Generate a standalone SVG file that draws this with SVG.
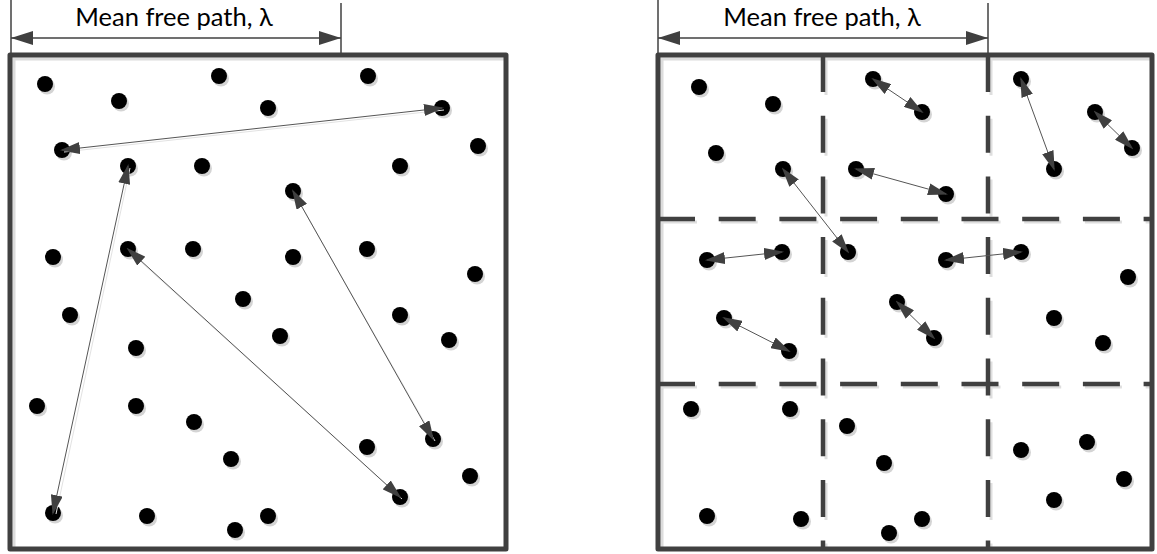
<svg xmlns="http://www.w3.org/2000/svg" xmlns:xlink="http://www.w3.org/1999/xlink" width="1157" height="554" viewBox="0 0 1157 554">
  <style>
    .frame { fill: none; stroke: #404040; stroke-width: 5; stroke-linejoin: round; }
    .frame-sh { fill: none; stroke: #dcdcdc; stroke-width: 3; }
    .grid { fill: none; stroke: #404040; stroke-width: 4.5; stroke-dasharray: 37 23.7; }
    .grid-sh { fill: none; stroke: #dedede; stroke-width: 3; stroke-dasharray: 37 23.7; }
    .tick { stroke: #404040; stroke-width: 1.5; }
    .dim { stroke: #404040; stroke-width: 1.5; marker-start: url(#dimHead); marker-end: url(#dimHead); }
    .label { font-family: Lato, "Open Sans", sans-serif; font-size: 25.5px; fill: #000; text-anchor: middle; }
    .dot { fill: #000; }
    .dot-sh { fill: #d4d4d4; }
    .path { stroke: #555; stroke-width: 1; fill: none; marker-start: url(#head); marker-end: url(#head); }
    .path-sh { stroke: #e2e2e2; stroke-width: 1; fill: none; }
  </style>
  <defs>
    <marker id="head" viewBox="0 0 20 12" refX="18" refY="6" markerWidth="20" markerHeight="12" markerUnits="userSpaceOnUse" orient="auto-start-reverse">
      <path d="M0,0 L20,6 L0,12 Z" fill="#404040"/>
    </marker>
    <marker id="dimHead" viewBox="0 0 22 14" refX="22" refY="7" markerWidth="22" markerHeight="14" markerUnits="userSpaceOnUse" orient="auto-start-reverse">
      <path d="M0,0 L22,7 L0,14 Z" fill="#404040"/>
    </marker>
    <g id="particle">
      <circle class="dot-sh" cx="2" cy="2.5" r="8"/>
      <circle class="dot" r="8"/>
    </g>
  </defs>

  <!-- ===== Left panel: single volume ===== -->
  <g id="left-frame">
    <rect class="frame-sh" x="14" y="59" width="492" height="490"/>
    <rect class="frame" x="10" y="55" width="496" height="494"/>
  </g>
  <g id="left-dimension">
    <line class="tick" x1="11" y1="0" x2="11" y2="55"/>
    <line class="tick" x1="341" y1="3" x2="341" y2="55"/>
    <line class="dim" x1="11" y1="38" x2="341" y2="38"/>
    <text class="label" x="174" y="26">Mean free path, λ</text>
  </g>

  <!-- ===== Right panel: cell grid ===== -->
  <g id="right-frame">
    <rect class="frame-sh" x="662" y="59" width="490" height="490"/>
    <line class="grid-sh" x1="826" y1="58" x2="826" y2="549"/>
    <line class="grid-sh" x1="991" y1="58" x2="991" y2="549"/>
    <line class="grid-sh" x1="660" y1="222" x2="1152" y2="222"/>
    <line class="grid-sh" x1="660" y1="387" x2="1152" y2="387"/>
    <line class="grid" x1="823" y1="55" x2="823" y2="549"/>
    <line class="grid" x1="988" y1="55" x2="988" y2="549"/>
    <line class="grid" x1="658" y1="219" x2="1152" y2="219"/>
    <line class="grid" x1="658" y1="384" x2="1152" y2="384"/>
    <rect class="frame" x="658" y="55" width="494" height="494"/>
  </g>
  <g id="right-dimension">
    <line class="tick" x1="658" y1="0" x2="658" y2="55"/>
    <line class="tick" x1="988" y1="3" x2="988" y2="55"/>
    <line class="dim" x1="658" y1="38" x2="988" y2="38"/>
    <text class="label" x="822" y="26">Mean free path, λ</text>
  </g>

  <!-- ===== Particles, left panel ===== -->
  <g id="L1"><use xlink:href="#particle" x="45" y="84"/></g>
  <g id="L2"><use xlink:href="#particle" x="119" y="101"/></g>
  <g id="L3"><use xlink:href="#particle" x="219" y="76"/></g>
  <g id="L4"><use xlink:href="#particle" x="368" y="76"/></g>
  <g id="L5"><use xlink:href="#particle" x="268" y="108"/></g>
  <g id="L6"><use xlink:href="#particle" x="442" y="108"/></g>
  <g id="L7"><use xlink:href="#particle" x="62" y="150"/></g>
  <g id="L8"><use xlink:href="#particle" x="478" y="146"/></g>
  <g id="L9"><use xlink:href="#particle" x="128" y="166"/></g>
  <g id="L10"><use xlink:href="#particle" x="202" y="166"/></g>
  <g id="L11"><use xlink:href="#particle" x="400" y="166"/></g>
  <g id="L12"><use xlink:href="#particle" x="293" y="191"/></g>
  <g id="L13"><use xlink:href="#particle" x="53" y="257"/></g>
  <g id="L14"><use xlink:href="#particle" x="128" y="249"/></g>
  <g id="L15"><use xlink:href="#particle" x="193" y="249"/></g>
  <g id="L16"><use xlink:href="#particle" x="293" y="257"/></g>
  <g id="L17"><use xlink:href="#particle" x="367" y="249"/></g>
  <g id="L18"><use xlink:href="#particle" x="475" y="274"/></g>
  <g id="L19"><use xlink:href="#particle" x="243" y="299"/></g>
  <g id="L20"><use xlink:href="#particle" x="70" y="315"/></g>
  <g id="L21"><use xlink:href="#particle" x="400" y="315"/></g>
  <g id="L22"><use xlink:href="#particle" x="280" y="336"/></g>
  <g id="L23"><use xlink:href="#particle" x="449" y="340"/></g>
  <g id="L24"><use xlink:href="#particle" x="136" y="348"/></g>
  <g id="L25"><use xlink:href="#particle" x="37" y="406"/></g>
  <g id="L26"><use xlink:href="#particle" x="136" y="406"/></g>
  <g id="L27"><use xlink:href="#particle" x="194" y="422"/></g>
  <g id="L28"><use xlink:href="#particle" x="367" y="447"/></g>
  <g id="L29"><use xlink:href="#particle" x="433" y="439"/></g>
  <g id="L30"><use xlink:href="#particle" x="231" y="459"/></g>
  <g id="L31"><use xlink:href="#particle" x="470" y="476"/></g>
  <g id="L32"><use xlink:href="#particle" x="400" y="497"/></g>
  <g id="L33"><use xlink:href="#particle" x="53" y="513"/></g>
  <g id="L34"><use xlink:href="#particle" x="147" y="516"/></g>
  <g id="L35"><use xlink:href="#particle" x="268" y="516"/></g>
  <g id="L36"><use xlink:href="#particle" x="235" y="530"/></g>

  <!-- ===== Particles, right panel ===== -->
  <g id="R1"><use xlink:href="#particle" x="699" y="87"/></g>
  <g id="R2"><use xlink:href="#particle" x="773" y="104"/></g>
  <g id="R3"><use xlink:href="#particle" x="716" y="153"/></g>
  <g id="R4"><use xlink:href="#particle" x="873" y="79"/></g>
  <g id="R5"><use xlink:href="#particle" x="922" y="112"/></g>
  <g id="R6"><use xlink:href="#particle" x="1021" y="79"/></g>
  <g id="R7"><use xlink:href="#particle" x="1095" y="112"/></g>
  <g id="R8"><use xlink:href="#particle" x="1132" y="148"/></g>
  <g id="R9"><use xlink:href="#particle" x="1054" y="169"/></g>
  <g id="R10"><use xlink:href="#particle" x="783" y="169"/></g>
  <g id="R11"><use xlink:href="#particle" x="856" y="169"/></g>
  <g id="R12"><use xlink:href="#particle" x="946" y="194"/></g>
  <g id="R13"><use xlink:href="#particle" x="707" y="260"/></g>
  <g id="R14"><use xlink:href="#particle" x="782" y="252"/></g>
  <g id="R15"><use xlink:href="#particle" x="848" y="252"/></g>
  <g id="R16"><use xlink:href="#particle" x="946" y="260"/></g>
  <g id="R17"><use xlink:href="#particle" x="1021" y="252"/></g>
  <g id="R18"><use xlink:href="#particle" x="1128" y="277"/></g>
  <g id="R19"><use xlink:href="#particle" x="724" y="318"/></g>
  <g id="R20"><use xlink:href="#particle" x="789" y="351"/></g>
  <g id="R21"><use xlink:href="#particle" x="897" y="302"/></g>
  <g id="R22"><use xlink:href="#particle" x="934" y="338"/></g>
  <g id="R23"><use xlink:href="#particle" x="1054" y="318"/></g>
  <g id="R24"><use xlink:href="#particle" x="1103" y="343"/></g>
  <g id="R25"><use xlink:href="#particle" x="691" y="409"/></g>
  <g id="R26"><use xlink:href="#particle" x="790" y="409"/></g>
  <g id="R27"><use xlink:href="#particle" x="847" y="426"/></g>
  <g id="R28"><use xlink:href="#particle" x="884" y="463"/></g>
  <g id="R29"><use xlink:href="#particle" x="1021" y="450"/></g>
  <g id="R30"><use xlink:href="#particle" x="1087" y="442"/></g>
  <g id="R31"><use xlink:href="#particle" x="1124" y="479"/></g>
  <g id="R32"><use xlink:href="#particle" x="1054" y="500"/></g>
  <g id="R33"><use xlink:href="#particle" x="707" y="516"/></g>
  <g id="R34"><use xlink:href="#particle" x="801" y="519"/></g>
  <g id="R35"><use xlink:href="#particle" x="889" y="533"/></g>
  <g id="R36"><use xlink:href="#particle" x="922" y="519"/></g>

  <!-- ===== Free-flight paths between collisions (drawn over the particles) ===== -->
  <g id="connectors">
    <!-- left panel -->
    <line class="path-sh" x1="444" y1="110" x2="64" y2="152"/>
    <line class="path-sh" x1="130" y1="168" x2="56" y2="514"/>
    <line class="path-sh" x1="294" y1="193" x2="435" y2="441"/>
    <line class="path-sh" x1="129" y1="251" x2="402" y2="499"/>
    <line class="path" x1="442" y1="108" x2="62" y2="150"/>
    <line class="path" x1="128" y1="166" x2="53" y2="513"/>
    <line class="path" x1="293" y1="191" x2="433" y2="439"/>
    <line class="path" x1="128" y1="249" x2="400" y2="497"/>
    <!-- right panel -->
    <line class="path" x1="873" y1="79" x2="922" y2="112"/>
    <line class="path" x1="1021" y1="79" x2="1054" y2="169"/>
    <line class="path" x1="1095" y1="112" x2="1132" y2="148"/>
    <line class="path" x1="783" y1="169" x2="848" y2="252"/>
    <line class="path" x1="856" y1="169" x2="946" y2="194"/>
    <line class="path" x1="707" y1="260" x2="782" y2="252"/>
    <line class="path" x1="946" y1="260" x2="1021" y2="252"/>
    <line class="path" x1="724" y1="318" x2="789" y2="351"/>
    <line class="path" x1="897" y1="302" x2="934" y2="338"/>
  </g>
</svg>
